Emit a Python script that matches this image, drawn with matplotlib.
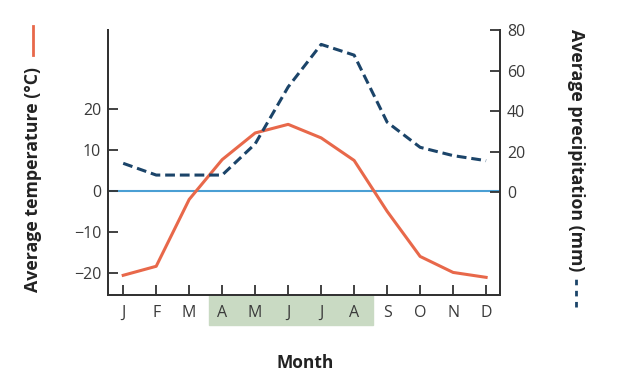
import matplotlib.pyplot as plt
from matplotlib.lines import Line2D
import matplotlib.transforms as mtransforms

plt.rcParams['font.family'] = ['Open Sans', 'DejaVu Sans']

months = ['J', 'F', 'M', 'A', 'M', 'J', 'J', 'A', 'S', 'O', 'N', 'D']
temperature = [-20.6, -18.4, -2.1, 7.6, 14.1, 16.2, 12.9, 7.4, -5.0, -16.0, -19.9, -21.1]
precipitation = [14.2, 8.4, 8.4, 8.4, 23.8, 51.9, 72.9, 67.6, 34.5, 22.1, 18.0, 15.5]
temp_ticks = [-20, -10, 0, 10, 20]
prec_ticks = [0, 20, 40, 60, 80]
growing_start, growing_end = 2.6, 7.56   # shaded months (A..A)

c_temp = '#e8684a'
c_prec = '#1b4469'
c_zero = '#4a9fd4'
c_axis = '#333333'
c_text = '#3a3a3a'

fig = plt.figure(figsize=(6.18, 3.78), dpi=100)
ax = fig.add_axes([0.1748, 0.2196, 0.6342, 0.701])
ax2 = ax.twinx()

x = list(range(len(months)))
ax.set_xlim(-0.46, 11.42)
ax.set_ylim(-25.4, 39.2)
ax2.set_ylim(-50.8, 80)

ax.axhline(0, color=c_zero, lw=1.5, zorder=1)
ax.plot(x, temperature, color=c_temp, lw=2.2, zorder=3)
ax2.plot(x, precipitation, color=c_prec, lw=2.2, ls=(0, (3.2, 1.6)), zorder=3)

# shaded months under the axis
trans = mtransforms.blended_transform_factory(ax.transData, ax.transAxes)
ax.add_patch(plt.Rectangle((growing_start, -0.115), growing_end - growing_start, 0.115,
                           transform=trans, color='#c9dac3', clip_on=False, zorder=0))

ax.set_xticks(x)
ax.set_xticklabels(months)
ax.set_yticks(temp_ticks)
ax.set_yticklabels(['\u221220', '\u221210', '0', '10', '20'])
ax2.set_yticks(prec_ticks)

for a in (ax, ax2):
    for s in a.spines.values():
        s.set_color(c_axis)
        s.set_linewidth(1.4)
    a.spines['top'].set_visible(False)
    a.tick_params(direction='in', length=7, width=1.3, color=c_axis,
                  labelsize=11.5, labelcolor=c_text, pad=5)
ax.tick_params(axis='x', pad=7)

fig.text(0.494, 0.04, 'Month', ha='center', va='center', fontsize=12.5,
         fontweight='bold', color='#222222')
fig.text(0.053, 0.524, 'Average temperature (\u00b0C)', rotation=90, ha='center',
         va='center', fontsize=12.8, fontweight='bold', color='#222222')
fig.text(0.932, 0.603, 'Average precipitation (mm)', rotation=-90, ha='center',
         va='center', fontsize=12.8, fontweight='bold', color='#222222')

# line keys next to the axis labels
fig.add_artist(Line2D([0.053, 0.053], [1 - 55 / 378, 1 - 26 / 378], color=c_temp, lw=2,
                      transform=fig.transFigure))
fig.add_artist(Line2D([0.932, 0.932], [1 - 307 / 378, 1 - 278 / 378], color=c_prec, lw=2,
                      ls=(0, (2, 2)), transform=fig.transFigure))

fig.savefig('out.png', dpi=100)
